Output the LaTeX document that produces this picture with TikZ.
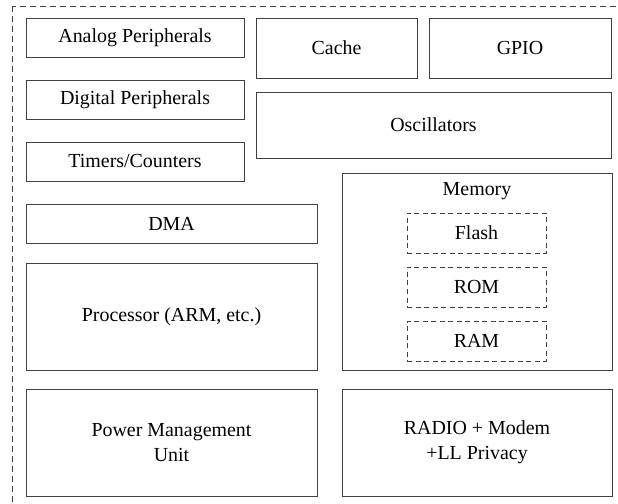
\documentclass[tikz,border=0pt]{standalone}
\usepackage{fontspec}
\setmainfont{Liberation Serif}
\usepackage{tikz}
\usetikzlibrary{calc}
\usetikzlibrary{backgrounds}

\begin{document}
\begin{tikzpicture}[x=1bp,y=-1bp,font=\fontsize{20}{25}\selectfont,
	blk/.style={draw=black!75,line width=0.9bp,inner sep=0pt},
	memblk/.style={draw=black!75,line width=0.9bp,inner sep=0pt,dash pattern=on 5bp off 3.5bp,minimum width=139bp,minimum height=40bp}]
	\useasboundingbox (0,0) rectangle (618,504);
	\draw[black!75,line width=0.9bp,dash pattern=on 6bp off 4bp] (12,6) rectangle (640,530);
	% left column
	\node[blk,minimum width=218bp,minimum height=39bp] (analog) at (135,37.5) {Analog Peripherals};
	\node[blk,minimum width=218bp,minimum height=39bp] (digital) at (135,99.5) {Digital Peripherals};
	\node[blk,minimum width=218bp,minimum height=39bp] (timers) at (135,161.5) {Timers/Counters};
	\node[blk,minimum width=291bp,minimum height=39bp] (dma) at (171.5,223.5) {DMA};
	\node[blk,minimum width=291bp,minimum height=107bp] (cpu) at (171.5,316.5) {Processor (ARM, etc.)};
	\node[blk,minimum width=291bp,minimum height=107bp,align=center] (pmu) at (171.5,442.5) {Power Management\\Unit};
	% right column
	\node[blk,minimum width=161bp,minimum height=60bp] (cache) at (336.5,48) {Cache};
	\node[blk,minimum width=182bp,minimum height=60bp] (gpio) at (520,48) {GPIO};
	\node[blk,minimum width=355bp,minimum height=66bp] (osc) at (433.5,125) {Oscillators};
	\node[blk,minimum width=270bp,minimum height=197bp] (mem) at (477,271.5) {};
	\node (memlbl) at (477,191) {Memory};
	\node[memblk] (flash) at (476.5,233) {Flash};
	\node[memblk] (rom) at (476.5,287) {ROM};
	\node[memblk] (ram) at (476.5,341) {RAM};
	\node[blk,minimum width=270bp,minimum height=107bp,align=center] (radio) at (477,442.5) {RADIO + Modem\\+LL Privacy};
\end{tikzpicture}
\end{document}
